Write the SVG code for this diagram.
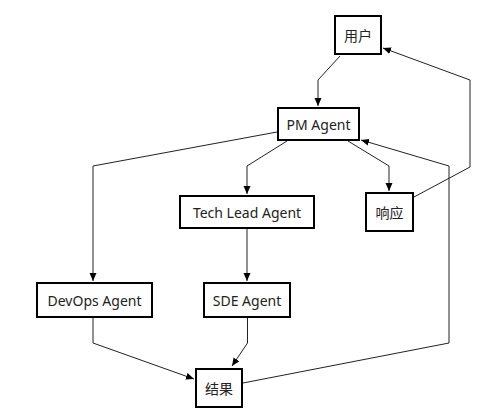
<svg xmlns="http://www.w3.org/2000/svg" width="480" height="419" viewBox="0 0 480 419">
<style>
.box{fill:#fff;stroke:#000;stroke-width:2}
.lbl{font-family:"Noto Sans","Noto Sans CJK SC",sans-serif;font-size:14px;fill:#222;text-anchor:middle;dominant-baseline:central}
.edge{fill:none;stroke:#222;stroke-width:1;marker-end:url(#arr)}
</style>
<defs>
<marker id="arr" markerUnits="userSpaceOnUse" markerWidth="9" markerHeight="8" refX="8" refY="3.5" orient="auto">
<path d="M0,0 L8,3.5 L0,7 z" fill="#000"/>
</marker>
</defs>
<rect width="480" height="419" fill="#fff"/>
<g id="connectors">
<path class="edge" d="M340,56 L318,80 L318,106"/>
<path class="edge" d="M287,141 L247,166 L247,194"/>
<path class="edge" d="M277,132 L93,166 L93,281"/>
<path class="edge" d="M348,141 L389,166 L389,191"/>
<path class="edge" d="M414,197 L470,167 L470,80 L383,48"/>
<path class="edge" d="M247,229 L247,281"/>
<path class="edge" d="M93,318 L93,343 L194,379"/>
<path class="edge" d="M247.5,318 L247.5,343 L232,366"/>
<path class="edge" d="M243,383 L449,343 L449,166 L361,140"/>
</g>
<g id="user"><rect class="box" x="335" y="16" width="46" height="38"/><text class="lbl" x="358" y="35">用户</text></g>
<g id="pm"><rect class="box" x="278" y="108" width="81" height="32"/><text class="lbl" x="318.5" y="124">PM Agent</text></g>
<g id="techlead"><rect class="box" x="180" y="196" width="134" height="32"/><text class="lbl" x="247" y="212">Tech Lead Agent</text></g>
<g id="response"><rect class="box" x="366" y="193" width="47" height="38"/><text class="lbl" x="389.5" y="212">响应</text></g>
<g id="devops"><rect class="box" x="37" y="283" width="115" height="34"/><text class="lbl" x="94.5" y="300">DevOps Agent</text></g>
<g id="sde"><rect class="box" x="204" y="283" width="86" height="34"/><text class="lbl" x="247" y="300">SDE Agent</text></g>
<g id="result"><rect class="box" x="196" y="369" width="46" height="38"/><text class="lbl" x="219" y="388">结果</text></g>
</svg>
